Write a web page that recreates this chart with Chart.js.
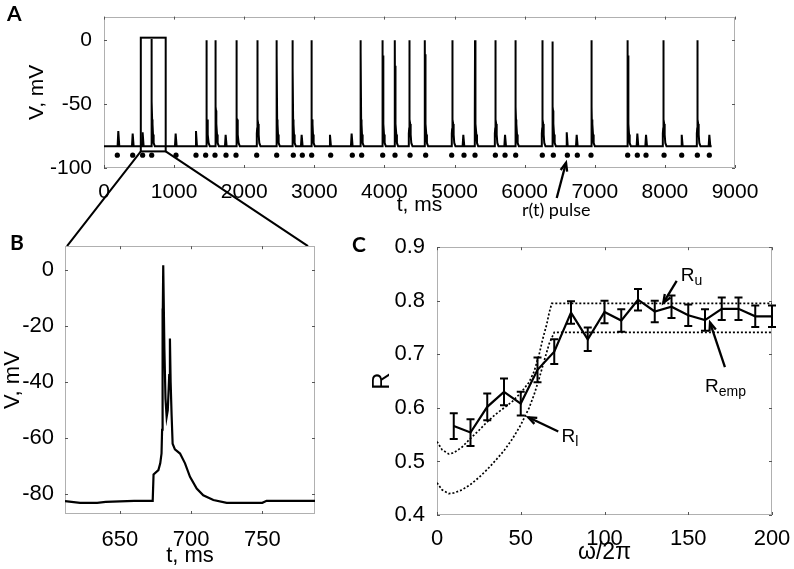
<!DOCTYPE html>
<html><head><meta charset="utf-8">
<script src="https://cdn.jsdelivr.net/npm/chart.js@4.4.1/dist/chart.umd.min.js"></script>
<style>
html,body{margin:0;padding:0;background:#fff;}
body{width:794px;height:569px;position:relative;overflow:hidden;}
canvas{position:absolute;}
</style></head><body>
<canvas id="ca" width="794" height="250" style="left:0;top:0"></canvas>
<canvas id="cb" width="340" height="339" style="left:0;top:230px"></canvas>
<canvas id="cc" width="454" height="339" style="left:340px;top:230px"></canvas>
<script>
// ---------------- Panel A data ----------------
const aXTicks = [0,1000,2000,3000,4000,5000,6000,7000,8000,9000];
const aYTicks = [-100,-50,0];
const aBaseline = -83;
const aTraceEnd = 8667;
const spikeTimes  = [680,1464,1593,1892,2187,2463,2691,2962,3661,3975,4150,4355,4578,4968,5292,5582,5872,6252,6400,6956,7470,7978,8463];
const spikePeaks  = [1,0,0,0,0,0,0,0,0,0,0,0,0,0,0,0,0,0,-1,0,0,0,0];
const spikeSecond = [-48,-68,-55,-62,-51,-12,-22,-67,-9,-12,-20,-20,-11,-74,-27,-20,-62,-68,-55,-72,-12,-10,-13];
const bumpTimes = [204,409,551,1022,1312,1735,2819,3223,3532,5125,5720,6600,6742,7607,7731,8240,8634];
const bumpPeaks = [-71,-73,-72,-73,-71,-74,-74,-74,-73,-74,-74,-72,-74,-73,-74,-74,-74];
const pulseTimes = [190,409,551,680,1027,1312,1450,1583,1740,1883,2178,2463,2700,2829,2962,3233,3542,3675,3975,4151,4365,4588,4959,5135,5292,5582,5720,5872,6252,6409,6609,6751,6946,7469,7607,7731,7988,8240,8463,8634];
const pulseLevel = -90;
// spike waveform (ms from peak, mV); null = per-spike peak / second peak
const spikeShapeT = [-8,-7.5,-2,-0.5,0,1.5,4.5,6.5,12,19,28,45];
const spikeShapeV = [-83,-73,-69,-57,null,-52,null,-62,-65.5,-73.8,-80.4,-83];
const bumpShapeT = [-10,0,14];
const bumpShapeV = [-83,null,-83];
const zoomRectT = [525,880];
const zoomRectV = [2,-87];

// ---------------- Panel B data ----------------
const bXTicks = [650,700,750];
const bYTicks = [-80,-60,-40,-20,0];
const bTime = [611.4,622,634,640,660,673,673.6,677,678.3,679.2,679.6,679.8,680.1,680.4,681.2,682,682.8,683.6,684.4,684.6,685.1,685.6,686.3,687,688.6,692.2,695.7,699.2,703.9,708.5,715.6,725,750,753,787];
const bVolt = [-82.5,-83.1,-83.1,-82.8,-82.4,-82.4,-73,-71.4,-69,-65.5,-57,-13.7,-22,1.8,-28,-46,-52.4,-50,-40,-37.5,-24.4,-40,-52,-62,-64,-65.5,-69,-73.8,-78,-80.4,-82.1,-83.1,-83.1,-82.4,-82.4];

// ---------------- Panel C data ----------------
const cXTicks = [0,50,100,150,200];
const cYTicks = [0.4,0.5,0.6,0.7,0.8,0.9];
const omega = [10,20,30,40,50,60,70,80,90,100,110,120,130,140,150,160,170,180,190,200];
const rEmp  = [0.566,0.554,0.602,0.630,0.608,0.671,0.705,0.778,0.728,0.779,0.763,0.802,0.780,0.789,0.773,0.764,0.785,0.785,0.771,0.771];
const rErr  = [0.024,0.025,0.025,0.025,0.022,0.023,0.023,0.021,0.022,0.021,0.021,0.020,0.020,0.021,0.020,0.020,0.021,0.021,0.020,0.020];
const ruX = [0,3,7,10,15,20,25,30,35,40,45,50,55,58,61,63,65.5,67,68.5,200];
const ruY = [0.537,0.522,0.514,0.516,0.527,0.543,0.558,0.574,0.588,0.600,0.612,0.628,0.648,0.668,0.700,0.727,0.756,0.778,0.795,0.795];
const rlX = [0,3,7,10,15,20,25,30,35,40,45,50,55,58,61,64,67,70,200];
const rlY = [0.460,0.447,0.440,0.441,0.447,0.457,0.470,0.485,0.502,0.520,0.542,0.568,0.600,0.625,0.655,0.688,0.720,0.741,0.741];

const F = '"Liberation Sans", Arial, Helvetica, sans-serif';
const LF = 'Lato, "Open Sans", sans-serif';

function buildTrace() {
  const ev = [];
  spikeTimes.forEach((t,i)=>ev.push({t, s:true, i}));
  bumpTimes.forEach((t,i)=>ev.push({t, s:false, i}));
  ev.sort((a,b)=>a.t-b.t);
  const pts = [{x:0,y:aBaseline}];
  ev.forEach(e => {
    if (e.s) {
      let nullCount = 0;
      spikeShapeT.forEach((dt,k) => {
        let v = spikeShapeV[k];
        if (v === null) { v = nullCount === 0 ? spikePeaks[e.i] : spikeSecond[e.i]; nullCount++; }
        pts.push({x:e.t+dt, y:v});
      });
    } else {
      bumpShapeT.forEach((dt,k) => pts.push({x:e.t+dt, y: bumpShapeV[k] === null ? bumpPeaks[e.i] : bumpShapeV[k]}));
    }
  });
  pts.push({x:aTraceEnd, y:aBaseline});
  return pts;
}

function frameTicks(chart, len) {
  const {ctx, chartArea: a, scales: {x, y}} = chart;
  ctx.save();
  ctx.lineWidth = 1;
  ctx.strokeStyle = '#b0b0b0';
  ctx.strokeRect(Math.round(a.left)+0.5, Math.round(a.top)+0.5, Math.round(a.right-a.left)-1, Math.round(a.bottom-a.top)-1);
  ctx.strokeStyle = '#555';
  ctx.beginPath();
  x.ticks.forEach(t => { const p = Math.round(x.getPixelForValue(t.value))+0.5; ctx.moveTo(p,a.bottom); ctx.lineTo(p,a.bottom-len); ctx.moveTo(p,a.top); ctx.lineTo(p,a.top+len); });
  y.ticks.forEach(t => { const p = Math.round(y.getPixelForValue(t.value))+0.5; ctx.moveTo(a.left,p); ctx.lineTo(a.left+len,p); ctx.moveTo(a.right,p); ctx.lineTo(a.right-len,p); });
  ctx.stroke();
  ctx.restore();
}
function arrow(ctx, x1, y1, x2, y2, head) {
  ctx.beginPath(); ctx.moveTo(x1,y1); ctx.lineTo(x2,y2); ctx.stroke();
  const ang = Math.atan2(y2-y1, x2-x1);
  ctx.beginPath();
  ctx.moveTo(x2 - head*Math.cos(ang-0.38), y2 - head*Math.sin(ang-0.38));
  ctx.lineTo(x2, y2);
  ctx.lineTo(x2 - head*Math.cos(ang+0.38), y2 - head*Math.sin(ang+0.38));
  ctx.stroke();
}
function panelLetter(ctx, txt, x, y) {
  ctx.save();
  ctx.font = 'bold 21px ' + LF;
  ctx.fillStyle = '#000';
  ctx.textBaseline = 'alphabetic';
  ctx.fillText(txt, x, y);
  ctx.restore();
}
function setTicks(arr) { return s => { s.ticks = arr.map(v => ({value: v})); }; }

const common = {
  responsive: false, animation: false, events: [],
  plugins: { legend: {display:false}, tooltip: {enabled:false} },
};

// ---------------- Chart C ----------------
const chartC = new Chart(document.getElementById('cc'), {
  type: 'line',
  data: { datasets: [
    { data: omega.map((v,i)=>({x:v, y:rEmp[i]})), borderColor:'#000', borderWidth:2.2, pointRadius:0 },
    { data: ruX.map((v,i)=>({x:v, y:ruY[i]})), borderColor:'#000', borderWidth:1.7, borderDash:[2,2], pointRadius:0 },
    { data: rlX.map((v,i)=>({x:v, y:rlY[i]})), borderColor:'#000', borderWidth:1.7, borderDash:[2,2], pointRadius:0 },
  ]},
  options: { ...common,
    layout: { padding: {left:0, right:22, top:16, bottom:0} },
    scales: {
      x: { type:'linear', min:0, max:200, grid:{display:false}, border:{display:false},
        afterBuildTicks: setTicks(cXTicks), afterFit: s => { s.height = 54; },
        ticks: { font:{family:F, size:22}, color:'#000', padding:3, maxRotation:0, autoSkip:false, callback: v => String(v) },
        title: { display:true, text:'ω/2π', font:{family:F, size:23}, color:'#000', padding:{top:0, bottom:3} } },
      y: { type:'linear', min:0.4, max:0.9, grid:{display:false}, border:{display:false},
        afterBuildTicks: setTicks(cYTicks), afterFit: s => { s.width = 97; },
        ticks: { font:{family:F, size:22}, color:'#000', padding:4, autoSkip:false, callback: v => v.toFixed(1) },
        title: { display:true, text:'R', font:{family:F, size:24}, color:'#000', padding:{top:28, bottom:0} } },
    },
  },
  plugins: [{
    id:'cdeco',
    beforeDatasetsDraw(chart) { frameTicks(chart, 3); },
    afterDatasetsDraw(chart) {
      const {ctx, scales:{x,y}} = chart;
      ctx.save();
      ctx.strokeStyle = '#000'; ctx.lineWidth = 2;
      ctx.beginPath();
      omega.forEach((w,i) => {
        const px = x.getPixelForValue(w);
        const y1 = y.getPixelForValue(rEmp[i] - rErr[i]);
        const y2 = y.getPixelForValue(rEmp[i] + rErr[i]);
        ctx.moveTo(px, y1); ctx.lineTo(px, y2);
        ctx.moveTo(px-4, y1); ctx.lineTo(px+4, y1);
        ctx.moveTo(px-4, y2); ctx.lineTo(px+4, y2);
      });
      ctx.stroke();
      // annotations
      ctx.lineWidth = 2.3;
      arrow(ctx, x.getPixelForValue(143.1), y.getPixelForValue(0.837), x.getPixelForValue(135.1), y.getPixelForValue(0.796), 9);
      arrow(ctx, x.getPixelForValue(72.4), y.getPixelForValue(0.556), x.getPixelForValue(54.5), y.getPixelForValue(0.5825), 9);
      arrow(ctx, x.getPixelForValue(171.9), y.getPixelForValue(0.676), x.getPixelForValue(163), y.getPixelForValue(0.7593), 9);
      ctx.fillStyle = '#000';
      ctx.textBaseline = 'alphabetic';
      const lab = (xv, yv, sub) => {
        const px = x.getPixelForValue(xv), py = y.getPixelForValue(yv);
        ctx.font = '19px ' + F; ctx.fillText('R', px, py);
        const w = ctx.measureText('R').width;
        ctx.font = '14px ' + F; ctx.fillText(sub, px + w, py + 4);
      };
      lab(145.5, 0.8368, 'u');
      lab(74.4, 0.5363, 'l');
      lab(160, 0.6292, 'emp');
      ctx.restore();
      panelLetter(ctx, 'C', 12, 22);
    }
  }]
});

// ---------------- Chart B ----------------
const chartB = new Chart(document.getElementById('cb'), {
  type: 'line',
  data: { datasets: [
    { data: bTime.map((t,i)=>({x:t, y:bVolt[i]})), borderColor:'#000', borderWidth:2.2, pointRadius:0 },
  ]},
  options: { ...common,
    layout: { padding: {left:0, right:25, top:16, bottom:0} },
    scales: {
      x: { type:'linear', min:611.4, max:787, grid:{display:false}, border:{display:false},
        afterBuildTicks: setTicks(bXTicks), afterFit: s => { s.height = 55; },
        ticks: { font:{family:F, size:22}, color:'#000', padding:5, maxRotation:0, autoSkip:false, callback: v => String(v) },
        title: { display:true, text:'t, ms', font:{family:F, size:22}, color:'#000', padding:{top:0, bottom:0} } },
      y: { type:'linear', min:-87.1, max:8.57, grid:{display:false}, border:{display:false},
        afterBuildTicks: setTicks(bYTicks), afterFit: s => { s.width = 65; },
        ticks: { font:{family:F, size:22}, color:'#000', padding:3, autoSkip:false, callback: v => String(v) },
        title: { display:true, text:'V, mV', font:{family:F, size:22}, color:'#000', padding:{top:0, bottom:0} } },
    },
  },
  plugins: [{
    id:'bdeco',
    beforeDatasetsDraw(chart) { frameTicks(chart, 3); },
    afterDraw(chart) { panelLetter(chart.ctx, 'B', 10, 20); }
  }]
});

// ---------------- Chart A ----------------
const chartA = new Chart(document.getElementById('ca'), {
  type: 'line',
  data: { datasets: [
    { data: buildTrace(), borderColor:'#000', borderWidth:2, pointRadius:0 },
    { data: pulseTimes.map(t=>({x:t, y:pulseLevel})), showLine:false, pointRadius:2.6, pointBackgroundColor:'#000', pointBorderWidth:0 },
  ]},
  options: { ...common,
    layout: { padding: {left:0, right:59, top:8, bottom:0} },
    scales: {
      x: { type:'linear', min:0, max:9000, grid:{display:false}, border:{display:false},
        afterBuildTicks: setTicks(aXTicks), afterFit: s => { s.height = 82; },
        ticks: { font:{family:F, size:21}, color:'#000', padding:4, maxRotation:0, autoSkip:false, callback: v => String(v) },
        title: { display:true, text:'t, ms', font:{family:F, size:21}, color:'#000', padding:{top:0, bottom:32} } },
      y: { type:'linear', min:-100, max:18.5, grid:{display:false}, border:{display:false},
        afterBuildTicks: setTicks(aYTicks), afterFit: s => { s.width = 104; },
        ticks: { font:{family:F, size:21}, color:'#000', padding:4, autoSkip:false, callback: v => String(v) },
        title: { display:true, text:'V, mV', font:{family:F, size:21}, color:'#000', padding:{top:25, bottom:0} } },
    },
  },
  plugins: [{
    id:'adeco',
    beforeDatasetsDraw(chart) { frameTicks(chart, 3); },
    afterDraw(chart) {
      const {ctx, scales:{x,y}} = chart;
      ctx.save();
      ctx.strokeStyle = '#000'; ctx.lineWidth = 2;
      const rl = x.getPixelForValue(zoomRectT[0]), rr = x.getPixelForValue(zoomRectT[1]);
      const rt = y.getPixelForValue(zoomRectV[0]), rb = y.getPixelForValue(zoomRectV[1]);
      ctx.strokeRect(rl, rt, rr-rl, rb-rt);
      const ba = chartB.chartArea, off = 230;
      ctx.beginPath();
      ctx.moveTo(rl, rb); ctx.lineTo(ba.left + 2, ba.top + off);
      ctx.moveTo(rr, rb); ctx.lineTo(ba.right - 7, ba.top + off);
      ctx.stroke();
      // r(t) pulse annotation
      ctx.lineWidth = 2.3;
      arrow(ctx, x.getPixelForValue(6457), y.getPixelForValue(-123.5), x.getPixelForValue(6590), y.getPixelForValue(-95.9), 9);
      ctx.fillStyle = '#000';
      ctx.font = '18px ' + LF;
      ctx.textAlign = 'center';
      ctx.textBaseline = 'alphabetic';
      ctx.fillText('r(t) pulse', x.getPixelForValue(6450), y.getPixelForValue(-137.6));
      ctx.restore();
      panelLetter(ctx, 'A', 7, 21);
    }
  }]
});
</script>
</body></html>
